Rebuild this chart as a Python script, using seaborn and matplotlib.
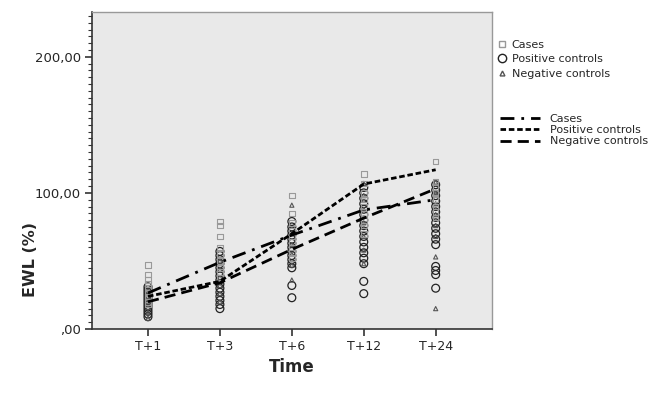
import matplotlib
matplotlib.use("Agg")
import matplotlib.pyplot as plt
import pandas as pd
import seaborn as sns
from matplotlib.lines import Line2D
from matplotlib.ticker import MultipleLocator, FixedLocator


times = ["T+1", "T+3", "T+6", "T+12", "T+24"]
groups = ["Cases", "Positive controls", "Negative controls"]

# individual EWL values, one list per time point
cases_pts = [
    [47, 40, 36, 33, 30, 27, 24, 22, 20, 18],
    [79, 76, 68, 60, 55, 50, 45, 42, 38],
    [98, 85, 78, 72, 68, 64, 60, 56, 52],
    [114, 107, 100, 95, 90, 85, 80, 76, 70],
    [123, 108, 104, 100, 95, 90, 86, 82],
]
pos_pts = [
    [31, 29, 27, 25, 23, 21, 19, 17, 15, 13, 11, 9],
    [57, 54, 51, 48, 45, 42, 39, 36, 33, 30, 27, 24, 21, 18, 15],
    [79, 75, 72, 69, 66, 63, 60, 57, 54, 51, 48, 45, 32, 23],
    [104, 100, 96, 92, 88, 84, 80, 76, 72, 68, 64, 60, 56, 52, 48, 35, 26],
    [106, 102, 98, 94, 90, 86, 82, 78, 74, 70, 66, 62, 46, 43, 40, 30],
]
neg_pts = [
    [28, 24, 20, 16, 12, 8],
    [50, 44, 38, 32, 26, 20],
    [91, 70, 62, 55, 47, 36],
    [107, 98, 88, 78, 68, 58, 48],
    [108, 100, 92, 84, 76, 68, 53, 15],
]

# mean lines
cases_line = [26.5, 49, 69, 87.5, 95]
pos_line = [24, 35, 70, 106.5, 117]
neg_line = [20, 34, 58.5, 81.5, 103]

rows = []
for g, pts in zip(groups, [cases_pts, pos_pts, neg_pts]):
    for i, vals in enumerate(pts):
        for v in vals:
            rows.append({"group": g, "t": i, "ewl": v})
pts_df = pd.DataFrame(rows)

lrows = []
for g, vals in zip(groups, [cases_line, pos_line, neg_line]):
    for i, v in enumerate(vals):
        lrows.append({"group": g, "t": i, "ewl": v})
line_df = pd.DataFrame(lrows)

sns.set_style("ticks")
plt.rcParams["font.family"] = ["DejaVu Sans"]

fig = plt.figure(figsize=(6.61, 3.95), dpi=100)
ax = fig.add_axes([0.139, 0.167, 0.605, 0.803])
ax.set_facecolor("#e9e9e9")

# point styles
pstyle = {
    "Positive controls": dict(marker="o", s=32, facecolor="none", edgecolor="#222222", linewidth=0.9),
    "Negative controls": dict(marker="^", s=9, facecolor="none", edgecolor="#555555", linewidth=0.8),
    "Cases": dict(marker="s", s=16, facecolor="none", edgecolor="#999999", linewidth=0.8),
}
for g in ["Positive controls", "Negative controls", "Cases"]:
    sns.scatterplot(data=pts_df[pts_df.group == g], x="t", y="ewl", ax=ax,
                    legend=False, zorder=3, **pstyle[g])

dash_map = {
    "Cases": (5, 2.5, 1, 2.5),
    "Positive controls": (2, 1),
    "Negative controls": (4, 2.2),
}
sns.lineplot(data=line_df, x="t", y="ewl", style="group", dashes=dash_map,
             color="black", linewidth=2, ax=ax, legend=False, zorder=4)

ax.set_xlim(-0.78, 4.78)
ax.set_ylim(0, 233)
ax.xaxis.set_major_locator(FixedLocator(range(len(times))))
ax.set_xticklabels(times, fontsize=9)
ax.yaxis.set_major_locator(FixedLocator([0, 100, 200]))
ax.set_yticklabels([",00", "100,00", "200,00"], fontsize=9.5)
ax.yaxis.set_minor_locator(MultipleLocator(5))
ax.tick_params(axis="both", which="major", direction="out", length=5, width=1.1,
               color="#222222", left=True, bottom=True, pad=3)
ax.tick_params(axis="y", which="minor", direction="out", length=3, width=0.8,
               color="#333333", left=True)
ax.tick_params(axis="x", which="minor", bottom=False)

for side in ["left", "bottom"]:
    ax.spines[side].set_visible(True)
    ax.spines[side].set_color("#333333")
    ax.spines[side].set_linewidth(1.2)
for side in ["top", "right"]:
    ax.spines[side].set_visible(True)
    ax.spines[side].set_color("#999999")
    ax.spines[side].set_linewidth(1)

ax.set_xlabel("Time", fontsize=12, fontweight="bold")
ax.set_ylabel("EWL (%)", fontsize=11.5, fontweight="bold")
ax.yaxis.set_label_coords(-0.135, 0.22)
ax.xaxis.set_label_coords(0.5, -0.09)

marker_handles = [
    Line2D([], [], linestyle="none", marker="s", markersize=4, markerfacecolor="none", markeredgecolor="#999999"),
    Line2D([], [], linestyle="none", marker="o", markersize=6, markerfacecolor="none", markeredgecolor="#222222"),
    Line2D([], [], linestyle="none", marker="^", markersize=3.5, markerfacecolor="none", markeredgecolor="#555555"),
]
leg1 = fig.legend(marker_handles, groups, loc="upper left", bbox_to_anchor=(0.752, 0.9),
                  frameon=False, fontsize=8, handlelength=0.8, handletextpad=0.5,
                  labelspacing=0.42, borderpad=0, borderaxespad=0)

line_handles = [
    Line2D([], [], color="black", linewidth=2, dashes=dash_map[g]) for g in groups
]
leg2 = fig.legend(line_handles, groups, loc="upper left", bbox_to_anchor=(0.756, 0.712),
                  frameon=False, fontsize=8, handlelength=3.6, handletextpad=0.9,
                  labelspacing=0.12, borderpad=0, borderaxespad=0)

fig.savefig("out.png", dpi=100)
